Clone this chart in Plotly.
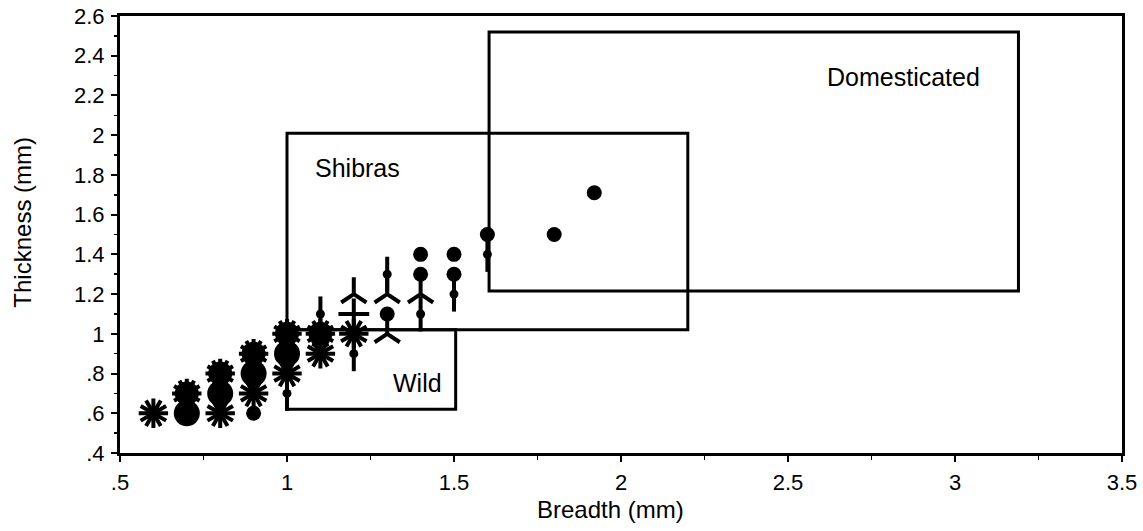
import plotly.graph_objects as go

# ---- data ----
asterisk_x = [0.6, 0.8, 0.9, 1.0, 1.1, 1.2]
asterisk_y = [0.6, 0.6, 0.7, 0.8, 0.9, 1.0]

gear_x = [0.7, 0.8, 0.9, 1.0, 1.1]
gear_y = [0.7, 0.8, 0.9, 1.0, 1.0]

disc_x = [0.7, 0.8, 0.9, 1.0]
disc_y = [0.6, 0.7, 0.8, 0.9]

circle_x = [0.9, 1.3, 1.4, 1.4, 1.5, 1.5, 1.6, 1.8, 1.92]
circle_y = [0.6, 1.1, 1.4, 1.3, 1.4, 1.3, 1.5, 1.5, 1.71]

pin_x = [1.0, 1.1, 1.2, 1.3, 1.4, 1.5, 1.6]
pin_y = [0.7, 1.1, 0.9, 1.3, 1.1, 1.2, 1.4]

yup_x = [1.2, 1.3, 1.3, 1.4]
yup_y = [1.2, 1.2, 1.0, 1.2]

cross_x = [1.2]
cross_y = [1.1]

# regions: name, x0, x1, y0, y1
region_names = ["Wild", "Shibras", "Domesticated"]
region_x0 = [1.0, 1.0, 1.605]
region_x1 = [1.505, 2.2, 3.19]
region_y0 = [0.62, 1.02, 1.216]
region_y1 = [1.02, 2.01, 2.52]
label_x = [1.39, 1.21, 2.845]
label_y = [0.75, 1.835, 2.295]

x_ticks = [0.5, 1, 1.5, 2, 2.5, 3, 3.5]
x_ticktext = [".5", "1", "1.5", "2", "2.5", "3", "3.5"]
y_ticks = [0.4, 0.6, 0.8, 1.0, 1.2, 1.4, 1.6, 1.8, 2.0, 2.2, 2.4, 2.6]
y_ticktext = [".4", ".6", ".8", "1", "1.2", "1.4", "1.6", "1.8", "2", "2.2", "2.4", "2.6"]

FONT = "Liberation Sans, Arial, Helvetica, sans-serif"
BLACK = "#000000"

fig = go.Figure()

# region boxes
for i in range(len(region_names)):
    fig.add_shape(type="rect", xref="x", yref="y",
                  x0=region_x0[i], x1=region_x1[i], y0=region_y0[i], y1=region_y1[i],
                  line=dict(color=BLACK, width=3), fillcolor="rgba(0,0,0,0)", layer="below")
    fig.add_annotation(x=label_x[i], y=label_y[i], xref="x", yref="y", text=region_names[i],
                       showarrow=False, font=dict(family=FONT, size=25, color=BLACK))

def sc(x, y, symbol, size, lw=0, angle=0, color=BLACK):
    fig.add_trace(go.Scatter(
        x=x, y=y, mode="markers", showlegend=False, hoverinfo="skip", cliponaxis=False,
        marker=dict(symbol=symbol, size=size, color=color, angle=angle,
                    line=dict(color=BLACK, width=lw))))

# large discs (blob bodies)
sc(disc_x, disc_y, "circle", 26)
# gears: disc + 12 spokes
sc(gear_x, gear_y, "circle", 24)
for a in (0, 30, 60):
    sc(gear_x, gear_y, "cross-thin-open", 21, lw=4, angle=a)
# asterisks with 12 spokes
for a in (0, 30, 60):
    sc(asterisk_x, asterisk_y, "cross-thin-open", 21, lw=4, angle=a)
# pins: vertical stem + small dot
sc(pin_x, pin_y, "line-ns-open", 25, lw=4)
sc(pin_x, pin_y, "circle", 9)
# y-up markers
sc(yup_x, yup_y, "y-up-open", 21, lw=4)
# cross
sc(cross_x, cross_y, "cross-thin-open", 22, lw=4)
# filled circles
sc(circle_x, circle_y, "circle", 15)

axis_common = dict(showgrid=False, zeroline=False, showline=True, linecolor=BLACK,
                   linewidth=3, mirror=True, ticks="outside", tickcolor=BLACK,
                   tickwidth=2, ticklen=6, automargin=False, ticklabeloverflow="allow",
                   tickfont=dict(family=FONT, size=22, color=BLACK))

fig.update_xaxes(range=[0.5, 3.5], tickvals=x_ticks, ticktext=x_ticktext,
                 ticklabelstandoff=2,
                 minor=dict(ticks="outside", ticklen=4, tickwidth=1.5, tickcolor=BLACK, dtick=0.25,
                            showgrid=False),
                 **axis_common)
fig.update_yaxes(range=[0.4, 2.6], tickvals=y_ticks, ticktext=y_ticktext,
                 ticklabelstandoff=2,
                 minor=dict(ticks="outside", ticklen=3, tickwidth=1.5, tickcolor=BLACK, dtick=0.1,
                            showgrid=False),
                 **axis_common)

fig.add_annotation(xref="paper", yref="paper", x=0.49, y=-0.13, yanchor="middle",
                   text="Breadth (mm)", showarrow=False,
                   font=dict(family=FONT, size=24, color=BLACK))
fig.add_annotation(xref="paper", yref="paper", x=-0.097, y=0.529, xanchor="center",
                   text="Thickness (mm)", textangle=-90, showarrow=False,
                   font=dict(family=FONT, size=24, color=BLACK))

fig.update_layout(width=1143, height=531, autosize=False, paper_bgcolor="white", plot_bgcolor="white",
                  margin=dict(l=120, r=21, t=16, b=78, pad=0), showlegend=False)

fig.write_html("out.html", config={"displayModeBar": False, "staticPlot": True},
               post_script="document.body.style.margin='0';document.body.style.padding='0';"
                           "document.documentElement.style.overflow='hidden';")
